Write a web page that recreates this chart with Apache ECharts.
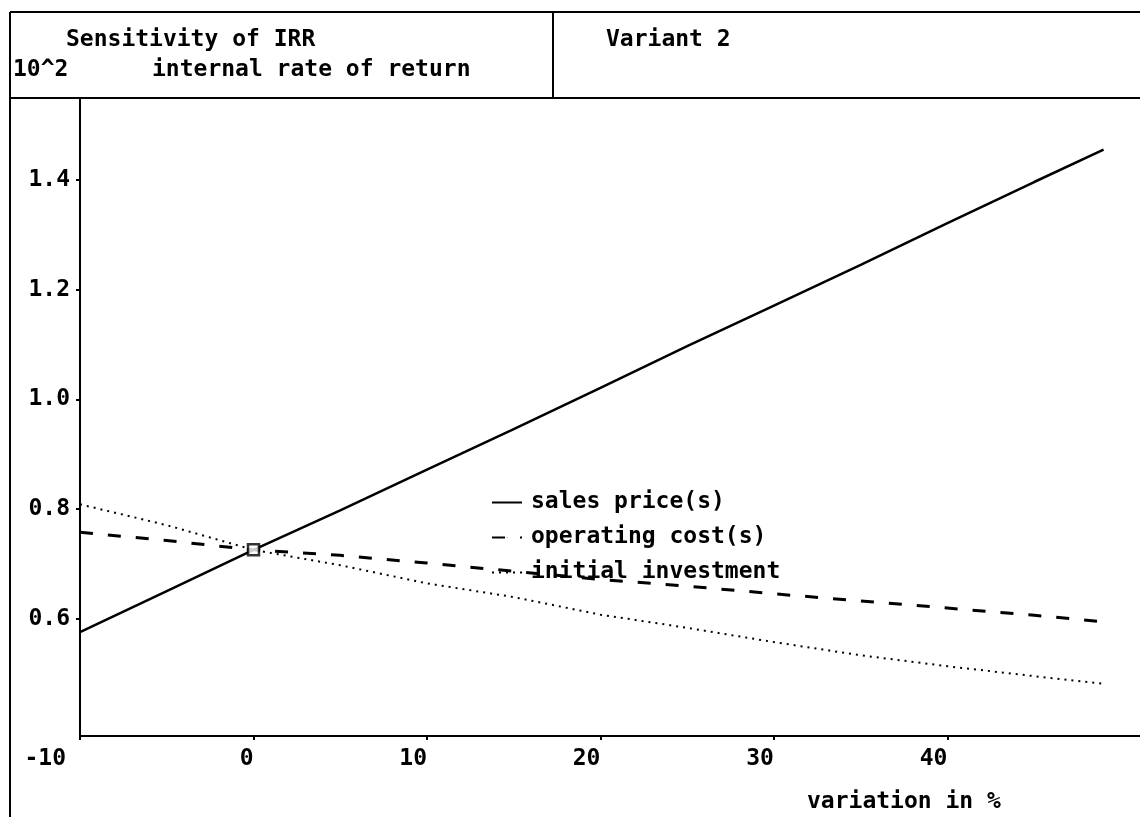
<!DOCTYPE html>
<html>
<head>
<meta charset="utf-8">
<script src="https://cdn.jsdelivr.net/npm/echarts@6/dist/echarts.min.js"></script>
<style>
html,body{margin:0;padding:0;background:#fff;}
#chart{width:1140px;height:817px;}
</style>
</head>
<body>
<div id="chart"></div>
<script>
// ---- data ----
const variation = [-10, -5, 0, 5, 10, 15, 20, 25, 30, 35, 40, 45, 49];
const salesPrice = [0.576, 0.651, 0.726, 0.798, 0.872, 0.946, 1.021, 1.097, 1.171, 1.245, 1.321, 1.396, 1.455];
const operatingCost = [0.758, 0.743, 0.726, 0.716, 0.702, 0.687, 0.672, 0.660, 0.646, 0.633, 0.620, 0.607, 0.595];
const initialInvestment = [0.809, 0.771, 0.726, 0.698, 0.665, 0.640, 0.608, 0.584, 0.558, 0.534, 0.514, 0.496, 0.482];
const basePoint = [[0, 0.726]];
const xTicks = [-10, 0, 10, 20, 30, 40];
const yTicks = [0.6, 0.8, 1.0, 1.2, 1.4];
const seriesNames = ['sales price(s)', 'operating cost(s)', 'initial investment'];

const FONT = '"DejaVu Sans Mono", "Liberation Mono", monospace';
const pairs = (ys) => variation.map((x, i) => [x, ys[i]]);

const chart = echarts.init(document.getElementById('chart'), null, {renderer: 'canvas'});
chart.setOption({
  backgroundColor: '#ffffff',
  animation: false,
  grid: {left: 80, top: 98, right: 0, bottom: 81, containLabel: false},
  xAxis: {
    type: 'value', min: -10, max: 51.1,
    axisLine: {onZero: false, lineStyle: {color: '#000', width: 2}},
    axisTick: {show: true, length: 4, lineStyle: {color: '#000', width: 2}, customValues: xTicks},
    splitLine: {show: false},
    axisLabel: {
      customValues: xTicks, color: '#000', fontFamily: FONT, fontWeight: 'bold', fontSize: 23,
      margin: 12, align: 'right',
      formatter: v => v === -10 ? '{a|-10}' : String(Math.round(v)),
      rich: {a: {color: '#000', fontFamily: FONT, fontWeight: 'bold', fontSize: 23, padding: [0, 14, 0, 0]}}
    }
  },
  yAxis: {
    type: 'value', min: 0.387, max: 1.549,
    axisLine: {show: true, onZero: false, lineStyle: {color: '#000', width: 2}},
    axisTick: {show: true, length: 4, lineStyle: {color: '#000', width: 2}, customValues: yTicks},
    splitLine: {show: false},
    axisLabel: {
      customValues: yTicks, color: '#000', fontFamily: FONT, fontWeight: 'bold', fontSize: 23,
      margin: 10, padding: [0, 0, 12, 0],
      formatter: v => v.toFixed(1)
    }
  },
  legend: {
    data: seriesNames,
    orient: 'vertical', left: 486, top: 486, itemGap: 12,
    itemWidth: 30, itemHeight: 1,
    textStyle: {color: '#000', fontFamily: FONT, fontWeight: 'bold', fontSize: 23, padding: [0, 0, 0, 4]}
  },
  series: [
    {name: seriesNames[0], type: 'line', data: pairs(salesPrice), showSymbol: false, symbol: 'none',
     lineStyle: {color: '#000', width: 2.5}, itemStyle: {color: '#000'}},
    {name: seriesNames[1], type: 'line', data: pairs(operatingCost), showSymbol: false, symbol: 'none',
     lineStyle: {color: '#000', width: 3, type: [13, 15]}, itemStyle: {color: '#000'}},
    {name: seriesNames[2], type: 'line', data: pairs(initialInvestment), showSymbol: false, symbol: 'none',
     lineStyle: {color: '#000', width: 2, type: [2, 5]}, itemStyle: {color: '#000'}},
    {name: 'base', type: 'scatter', data: basePoint, symbol: 'rect', symbolSize: 11,
     itemStyle: {color: '#fff', borderColor: '#000', borderWidth: 2.5}, z: 5}
  ],
  graphic: [
    {type: 'line', shape: {x1: 10, y1: 12, x2: 1140, y2: 12}, style: {stroke: '#000', lineWidth: 2}},
    {type: 'line', shape: {x1: 10, y1: 98, x2: 1140, y2: 98}, style: {stroke: '#000', lineWidth: 2}},
    {type: 'line', shape: {x1: 10, y1: 12, x2: 10, y2: 817}, style: {stroke: '#000', lineWidth: 2}},
    {type: 'line', shape: {x1: 553, y1: 12, x2: 553, y2: 98}, style: {stroke: '#000', lineWidth: 2}},
    {type: 'text', x: 66, y: 40, style: {text: 'Sensitivity of IRR', font: 'bold 23px ' + FONT, fill: '#000', verticalAlign: 'middle'}},
    {type: 'text', x: 13, y: 70, style: {text: '10^2', font: 'bold 23px ' + FONT, fill: '#000', verticalAlign: 'middle'}},
    {type: 'text', x: 152, y: 70, style: {text: 'internal rate of return', font: 'bold 23px ' + FONT, fill: '#000', verticalAlign: 'middle'}},
    {type: 'text', x: 606, y: 40, style: {text: 'Variant 2', font: 'bold 23px ' + FONT, fill: '#000', verticalAlign: 'middle'}},
    {type: 'text', x: 807, y: 802, style: {text: 'variation in %', font: 'bold 23px ' + FONT, fill: '#000', verticalAlign: 'middle'}}
  ]
});
</script>
</body>
</html>
